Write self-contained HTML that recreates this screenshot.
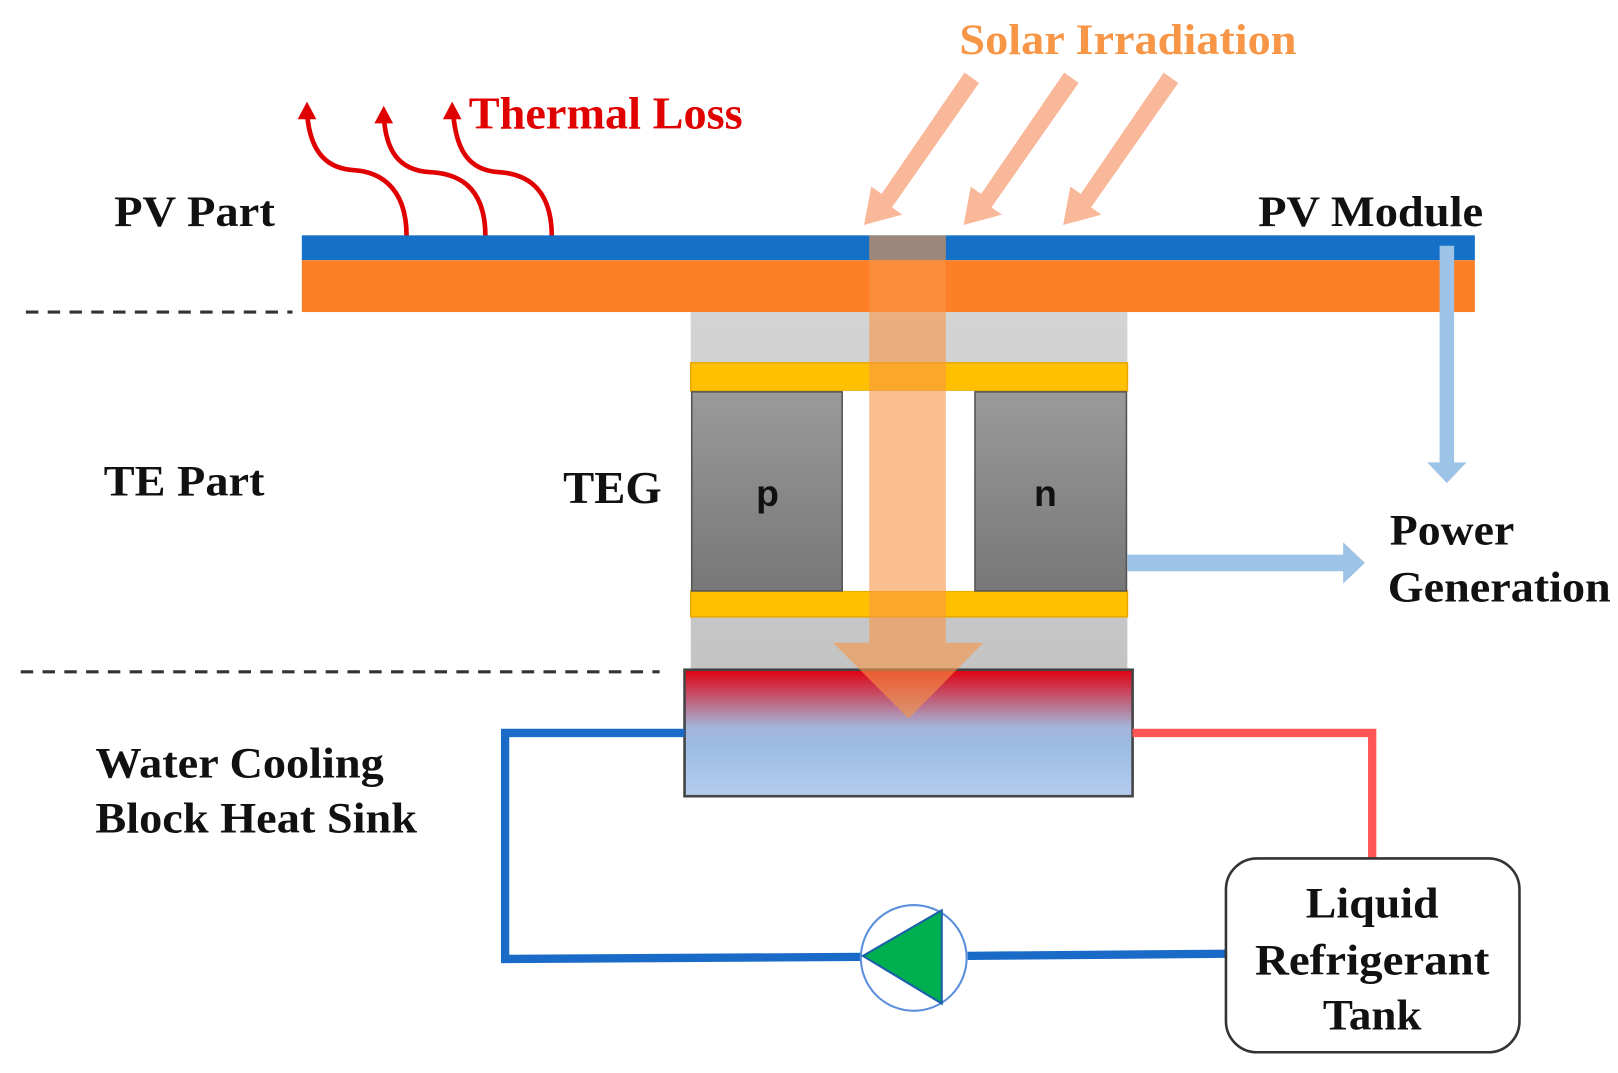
<!DOCTYPE html>
<html><head><meta charset="utf-8"><style>
html,body{margin:0;padding:0;background:#fff;}
svg{display:block;}
text{font-family:"Liberation Serif",serif;font-weight:bold;}
</style></head><body>
<svg width="1618" height="1073" viewBox="0 0 1560 1035" preserveAspectRatio="none" xmlns="http://www.w3.org/2000/svg">
<defs>
<linearGradient id="pg" x1="0" y1="0" x2="0" y2="1"><stop offset="0" stop-color="#9a9a9a"/><stop offset="1" stop-color="#777"/></linearGradient>
<linearGradient id="hs" x1="0" y1="0" x2="0" y2="1"><stop offset="0" stop-color="#e00010"/><stop offset="0.45" stop-color="#a4b4d8"/><stop offset="0.6" stop-color="#9dbbe2"/><stop offset="1" stop-color="#b4cdee"/></linearGradient>
<linearGradient id="gb" x1="0" y1="0" x2="0" y2="1"><stop offset="0" stop-color="#d4d4d4"/><stop offset="1" stop-color="#c4c4c4"/></linearGradient>
</defs>
<text x="925" y="52" font-size="42" fill="#f79646" textLength="325" lengthAdjust="spacingAndGlyphs">Solar Irradiation</text>
<text x="452" y="124" font-size="44" fill="#e00000" textLength="264" lengthAdjust="spacingAndGlyphs">Thermal Loss</text>
<text x="110" y="218" font-size="42" fill="#111" textLength="155" lengthAdjust="spacingAndGlyphs">PV Part</text>
<text x="1213" y="218" font-size="42" fill="#111" textLength="217" lengthAdjust="spacingAndGlyphs">PV Module</text>
<text x="100" y="478" font-size="42" fill="#111" textLength="155" lengthAdjust="spacingAndGlyphs">TE Part</text>
<text x="543" y="485" font-size="44" fill="#111" textLength="95" lengthAdjust="spacingAndGlyphs">TEG</text>
<text x="1340" y="525" font-size="42" fill="#111" textLength="120" lengthAdjust="spacingAndGlyphs">Power</text>
<text x="1338" y="580" font-size="42" fill="#111" textLength="215" lengthAdjust="spacingAndGlyphs">Generation</text>
<text x="92" y="750" font-size="42" fill="#111" textLength="278" lengthAdjust="spacingAndGlyphs">Water Cooling</text>
<text x="92" y="803" font-size="42" fill="#111" textLength="310" lengthAdjust="spacingAndGlyphs">Block Heat Sink</text>
<line x1="25" y1="301" x2="282" y2="301" stroke="#333" stroke-width="3" stroke-dasharray="12,9"/>
<line x1="20" y1="648" x2="636" y2="648" stroke="#333" stroke-width="3" stroke-dasharray="12,9"/>
<g fill="none" stroke="#e00000" stroke-width="4.5">
<path d="M392,228 C392,175 360,165 340,164 C310,162 298,140 296,108"/>
<path d="M468,228 C468,175 436,167 414,166 C384,164 372,145 370,112"/>
<path d="M532,228 C532,175 500,167 480,166 C452,164 440,145 437,110"/>
</g>
<g fill="#e00000">
<polygon points="296,98 287,115 305,115"/>
<polygon points="370,102 361,119 379,119"/>
<polygon points="436,98 427,115 445,115"/>
</g>
<rect x="666" y="301" width="421" height="344" fill="url(#gb)"/>
<rect x="666" y="350" width="421" height="27" fill="#ffc000" stroke="#e8a800" stroke-width="1.5"/>
<rect x="666" y="570" width="421" height="25" fill="#ffc000" stroke="#e8a800" stroke-width="1.5"/>
<rect x="812" y="377" width="128" height="193" fill="#fff"/>
<rect x="667" y="378" width="145" height="192" fill="url(#pg)" stroke="#555" stroke-width="1.5"/>
<rect x="940" y="378" width="146" height="192" fill="url(#pg)" stroke="#555" stroke-width="1.5"/>
<text x="740" y="488" font-size="36" fill="#111" text-anchor="middle" style="font-family:'Liberation Sans',sans-serif">p</text>
<text x="1008" y="488" font-size="36" fill="#111" text-anchor="middle" style="font-family:'Liberation Sans',sans-serif">n</text>
<rect x="291" y="227" width="1131" height="24" fill="#1570c8"/>
<rect x="291" y="251" width="1131" height="50" fill="#fd7f26"/>
<rect x="660" y="646" width="432" height="122" fill="url(#hs)" stroke="#444" stroke-width="2.5"/>
<g fill="#f79646" opacity="0.6">
<polygon points="838,227 912,227 912,620 948,620 876,693 803,620 838,620"/>
</g>
<g fill="#f9b89a">
<polygon points="930,70 944,80 860,200 870,207 833,217 840,180 850,187"/>
<polygon points="1026,70 1040,80 956,200 966,207 929,217 936,180 946,187"/>
<polygon points="1122,70 1136,80 1052,200 1062,207 1025,217 1032,180 1042,187"/>
</g>
<g fill="#9dc3e6">
<polygon points="1388,237 1402,237 1402,446 1414,446 1395,466 1376,446 1388,446"/>
<polygon points="1087,535 1295,535 1295,523 1316,543 1295,563 1295,551 1087,551"/>
</g>
<polyline points="660,707 487,707 487,925 830,923" fill="none" stroke="#1a6bc8" stroke-width="8"/>
<line x1="933" y1="922" x2="1182" y2="920" stroke="#1a6bc8" stroke-width="8"/>
<polyline points="1092,707 1323,707 1323,828" fill="none" stroke="#ff5555" stroke-width="8"/>
<circle cx="881" cy="924" r="51" fill="#fff" stroke="#5b8fdc" stroke-width="2"/>
<polygon points="832,922 908,878 908,968" fill="#00b050" stroke="#1a5fa8" stroke-width="2"/>
<rect x="1182" y="828" width="283" height="187" rx="30" ry="30" fill="#fff" stroke="#333" stroke-width="2.5"/>
<text x="1323" y="885" font-size="42" fill="#111" text-anchor="middle" textLength="128" lengthAdjust="spacingAndGlyphs">Liquid</text>
<text x="1323" y="940" font-size="42" fill="#111" text-anchor="middle" textLength="226" lengthAdjust="spacingAndGlyphs">Refrigerant</text>
<text x="1323" y="993" font-size="42" fill="#111" text-anchor="middle" textLength="95" lengthAdjust="spacingAndGlyphs">Tank</text>
</svg>
</body></html>
